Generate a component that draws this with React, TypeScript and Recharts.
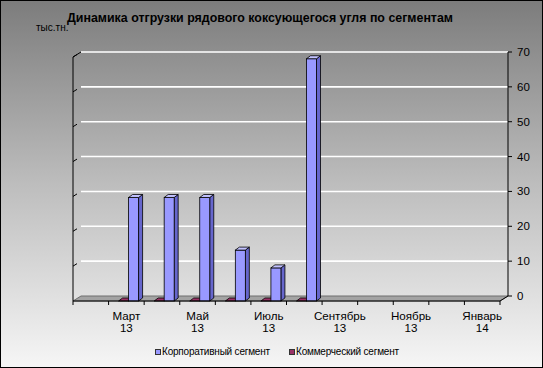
import React from 'react';
import { BarChart, Bar, XAxis, YAxis, CartesianGrid, ReferenceArea } from 'recharts';

const months = [
  'Февраль 13', 'Март 13', 'Апрель 13', 'Май 13', 'Июнь 13', 'Июль 13',
  'Август 13', 'Сентябрь 13', 'Октябрь 13', 'Ноябрь 13', 'Декабрь 13', 'Январь 14',
];
const corporate: (number | null)[] = [null, 29.7, 29.7, 29.7, 14.6, 9.5, 69.5, null, null, null, null, null];
const commercial: (number | null)[] = [null, 0, 0, 0, 0, 0, 0, null, null, null, null, null];
const yTicks = [0, 10, 20, 30, 40, 50, 60, 70];
const seriesNames = { corporate: 'Корпоративный сегмент', commercial: 'Коммерческий сегмент' };
const title = 'Динамика отгрузки рядового коксующегося угля по сегментам';
const unit = 'тыс.тн.';

const data = months.map((m, i) => ({ month: m, corporate: corporate[i], commercial: commercial[i] }));

const FONT = '"Liberation Sans", Arial, sans-serif';
const DX = 8;
const DY = 5;
const BDX = 4;
const BDY = 3;
const SHIFT = 2;

const COLORS = {
  corporate: { front: '#9999ff', top: '#c2c2ff', side: '#6666cc' },
  commercial: { front: '#993366', top: '#993366', side: '#662244' },
};

const makeBar = (key: 'corporate' | 'commercial') => (p: any) => {
  const { x, y, width, height, payload } = p;
  if (!payload || payload[key] == null) return <g />;
  const c = COLORS[key];
  const X = x + SHIFT;
  const h = Math.max(height || 0, 0);
  const Y = h > 0 ? y : y + (height || 0);
  const w = width;
  return (
    <g>
      {h > 0 && (
        <polygon
          points={`${X + w},${Y} ${X + w + BDX},${Y - BDY} ${X + w + BDX},${Y + h - BDY} ${X + w},${Y + h}`}
          fill={c.side}
          stroke="#000"
          strokeWidth={0.8}
        />
      )}
      {h > 0 && <rect x={X} y={Y} width={w} height={h} fill={c.front} stroke="#000" strokeWidth={0.8} />}
      <polygon
        points={`${X},${Y} ${X + BDX},${Y - BDY} ${X + w + BDX},${Y - BDY} ${X + w},${Y}`}
        fill={c.top}
        stroke="#000"
        strokeWidth={0.8}
      />
    </g>
  );
};

const gridLine = (p: any) => {
  const { x1, x2, y1, y, height } = p;
  const bottom = y + height;
  const isFloor = Math.abs(y1 - bottom) < 0.5;
  if (isFloor) {
    return (
      <polygon
        key={p.key}
        points={`${x1},${y1} ${x2},${y1} ${x2 + DX},${y1 - DY} ${x1 + DX},${y1 - DY}`}
        fill="#a3a3a3"
        stroke="#6e6e6e"
        strokeWidth={1}
      />
    );
  }
  return (
    <g key={p.key}>
      <line x1={x1 + DX} y1={y1 - DY} x2={x2 + DX} y2={y1 - DY} stroke="#ffffff" strokeWidth={1.6} />
      <line x1={x1} y1={y1} x2={x1 + DX * 0.5} y2={y1 - DY * 0.5} stroke="#000" strokeWidth={1} />
    </g>
  );
};

const Frame = (p: any) => {
  const { x, y, width, height } = p;
  const r = x + width;
  const b = y + height;
  return (
    <g>
      <line x1={x} y1={y} x2={x} y2={b} stroke="#000" strokeWidth={1} />
      <line x1={x} y1={y} x2={x + DX} y2={y - DY} stroke="#000" strokeWidth={1} />
      <line x1={r + DX} y1={y - DY} x2={r + DX} y2={b - DY} stroke="#000" strokeWidth={1} />
      <line x1={r} y1={b} x2={r + DX} y2={b - DY} stroke="#000" strokeWidth={1} />
    </g>
  );
};

const XTick = (p: any) => {
  const { x, y, payload, index } = p;
  const off = payload && payload.offset != null ? payload.offset : 0;
  const parts = String(payload.value).split(' ');
  const show = index % 2 === 1;
  return (
    <g>
      <line x1={x - off} y1={y} x2={x - off} y2={y + 4} stroke="#000" />
      {index === months.length - 1 && <line x1={x + off} y1={y} x2={x + off} y2={y + 4} stroke="#000" />}
      {show && (
        <text textAnchor="middle" fontSize={11.6} fill="#000" fontFamily={FONT}>
          <tspan x={x} y={y + 19}>{parts[0]}</tspan>
          <tspan x={x} y={y + 31}>{parts[1]}</tspan>
        </text>
      )}
    </g>
  );
};

const YTick = (p: any) => {
  const { x, y, payload } = p;
  const bx = x + DX;
  const by = y - DY;
  return (
    <g>
      <line x1={bx} y1={by} x2={bx + 4} y2={by} stroke="#000" />
      <text x={bx + 9} y={by} dy="0.35em" fontSize={11.5} fill="#000" fontFamily={FONT}>
        {payload.value}
      </text>
    </g>
  );
};

const LegendItem = ({ left, color, label }: { left: number; color: string; label: string }) => (
  <div style={{ position: 'absolute', left, top: 346, height: 12, display: 'flex', alignItems: 'center', whiteSpace: 'nowrap' }}>
    <span style={{ display: 'inline-block', width: 4, height: 4, background: color, border: '1px solid #333', marginRight: 1 }} />
    <span style={{ fontSize: 10, lineHeight: '12px', color: '#000', fontFamily: FONT, letterSpacing: -0.2 }}>{label}</span>
  </div>
);

export default function App() {
  return (
    <div
      style={{
        position: 'absolute',
        left: 0,
        top: 0,
        width: 543,
        height: 368,
        background: 'linear-gradient(to bottom, #7c7c7c 0%, #bdbdbd 50%, #f6f6f6 100%)',
        fontFamily: FONT,
        overflow: 'hidden',
      }}
    >
      <div style={{ position: 'absolute', left: 0, top: 11, width: 520, textAlign: 'center', fontSize: 12.4, fontWeight: 'bold', lineHeight: '14px', color: '#000' }}>
        {title}
      </div>
      <div style={{ position: 'absolute', left: 36, top: 22, fontSize: 10, lineHeight: '12px', color: '#000' }}>{unit}</div>
      <div style={{ position: 'absolute', left: 0, top: 0 }}>
        <BarChart
          width={543}
          height={368}
          data={data}
          margin={{ top: 57, right: 13, bottom: 0, left: 73 }}
          barSize={10}
          barGap={0}
        >
          <CartesianGrid horizontal={gridLine} vertical={false} />
          <XAxis
            dataKey="month"
            interval={0}
            height={67}
            tickSize={0}
            tickMargin={0}
            tickLine={false}
            axisLine={{ stroke: '#000' }}
            tick={XTick}
          />
          <YAxis
            orientation="right"
            domain={[0, 70]}
            ticks={yTicks}
            width={30}
            tickSize={0}
            tickMargin={0}
            tickLine={false}
            axisLine={false}
            tick={YTick}
          />
          <ReferenceArea y1={0} y2={70} shape={Frame} />
          <Bar dataKey="commercial" name={seriesNames.commercial} isAnimationActive={false} shape={makeBar('commercial')} />
          <Bar dataKey="corporate" name={seriesNames.corporate} isAnimationActive={false} shape={makeBar('corporate')} />
        </BarChart>
      </div>
      <LegendItem left={155} color={COLORS.corporate.front} label={seriesNames.corporate} />
      <LegendItem left={289} color={COLORS.commercial.front} label={seriesNames.commercial} />
      <div style={{ position: 'absolute', left: 0, top: 0, width: 543, height: 368, boxSizing: 'border-box', border: '1px solid #000', pointerEvents: 'none' }} />
    </div>
  );
}
